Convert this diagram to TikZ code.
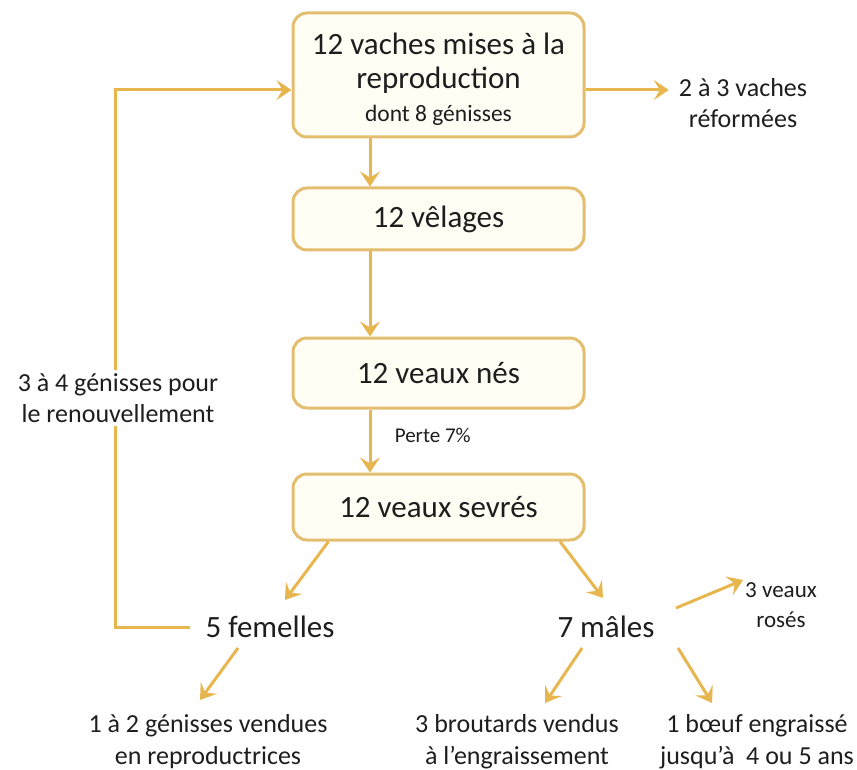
\documentclass[tikz,border=0pt]{standalone}
\usepackage{fontspec}
\setmainfont{Carlito}
\usetikzlibrary{arrows.meta,calc}
\definecolor{gold}{RGB}{232,182,78}
\definecolor{boxline}{RGB}{226,190,110}
\definecolor{boxfill}{RGB}{255,253,244}
\definecolor{ink}{RGB}{30,30,30}
\tikzset{
  stagebox/.style={draw=boxline, line width=3pt, fill=boxfill, rounded corners=14pt,
    minimum width=291pt, align=center, text=ink, font=\fontsize{31}{34}\selectfont},
  arr/.style={draw=gold, line width=3pt, -{Stealth[length=15pt,width=20pt,inset=6pt]}},
  lbl/.style={text=ink, align=center, inner sep=0pt, font=\fontsize{26}{31}\selectfont},
  small/.style={text=ink, align=center, inner sep=0pt, font=\fontsize{23}{30}\selectfont},
  big/.style={text=ink, align=center, inner sep=0pt, font=\fontsize{31}{36}\selectfont},
}
\begin{document}
\begin{tikzpicture}[x=1pt,y=-1pt]
\useasboundingbox (0,0) rectangle (857,770);
% boxes
\node[stagebox, minimum height=124pt] (b1) at (438.5,75)
  {\rule{0pt}{31pt}12 vaches mises à la\\reproduction\\[-1pt]{\fontsize{23.5}{26}\selectfont dont 8 génisses}};
\node[stagebox, minimum height=62pt] (b2) at (438.5,219) {12 vêlages};
\node[stagebox, minimum height=70pt] (b3) at (438.5,373) {12 veaux nés};
\node[stagebox, minimum height=66pt] (b4) at (438.5,507) {12 veaux sevrés};
% labels
\node[lbl] (ref) at (743,103) {2 à 3 vaches\\réformées};
\node[big] (fem) at (270,627) {5 femelles};
\node[big] (mal) at (606,627) {7 mâles};
\node[small] (ros) at (781,605) {3 veaux\\rosés};
\node[lbl, font=\fontsize{26}{32}\selectfont] (gen) at (208,742) {1 à 2 génisses vendues\\en reproductrices};
\node[lbl, font=\fontsize{26}{32}\selectfont] (brou) at (517,742) {3 broutards vendus\\à l’engraissement};
\node[lbl, font=\fontsize{26}{32}\selectfont] (boeuf) at (757,742) {1 bœuf engraissé\\jusqu’à~ 4 ou 5 ans};
\coordinate (lc) at (115,90);
% connectors
\draw[arr] ([xshift=-68.5pt]b1.south) -- ([xshift=-68.5pt]b2.north);
\draw[arr] ([xshift=-68.5pt]b2.south) -- ([xshift=-68.5pt]b3.north);
\draw[arr] ([xshift=-68.5pt]b3.south) -- node[right=20pt, yshift=6pt, text=ink, font=\fontsize{21}{25}\selectfont] (perte) {Perte 7\%} ([xshift=-68.5pt]b4.north);
\draw[arr] ([yshift=-15pt]b1.east) -- ($(ref.west)+(-10,-13)$);
\draw[arr] ($(fem.west)+(-15,0)$) -| (lc) -- ([yshift=-15pt]b1.west);
\node[lbl, fill=white, inner sep=3pt] (ren) at (118,398) {3 à 4 génisses pour\\le renouvellement};
\draw[arr] ([xshift=-110pt]b4.south) -- ($(fem)+(15,-27)$);
\draw[arr] ([xshift=121.5pt]b4.south) -- ($(mal)+(-3,-29)$);
\draw[arr] ($(mal)+(70,-19)$) -- ($(ros.west)+(-2,-25)$);
\draw[arr] ($(fem)+(-32,21)$) -- ($(fem)+(-70,73)$);
\draw[arr] ($(mal)+(-24,21)$) -- ($(mal)+(-61,76)$);
\draw[arr] ($(mal)+(72,21)$) -- ($(mal)+(106,76)$);
\end{tikzpicture}
\end{document}
